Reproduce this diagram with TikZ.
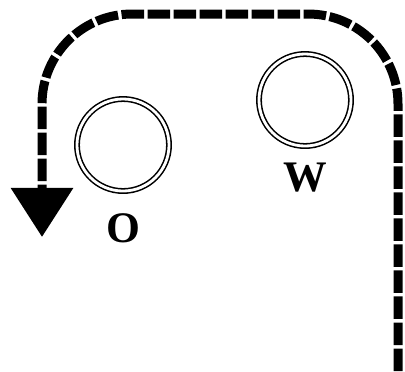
\documentclass[tikz,border=0pt]{standalone}
\usepackage{fontspec}
\setmainfont{Liberation Serif}
\usetikzlibrary{arrows.meta}

\begin{document}
\begin{tikzpicture}[x=0.025cm,y=-0.025cm]
\useasboundingbox (0,0) rectangle (405,371);
\begin{scope}[every node/.style={circle,draw,double,line width=1.1pt,double distance=2pt,minimum size=2.3cm,inner sep=0pt}]
    \node (o) at (123,145) {};
    \node (w) at (305,100) {};
\end{scope}
\begin{scope}[every node/.style={font=\bfseries\fontsize{31}{31}\selectfont}]
    \node (o_label) at (123,228) {O};
    \node (w_label) at (305,178) {W};
\end{scope}
\coordinate (start) at (398,371);
\coordinate (corner_ne) at (398,14);
\coordinate (corner_nw) at (42,14);
\coordinate (stop) at (42,237);
\begin{scope}[>={Triangle[width=43pt,length=35pt]},
              dashed_edge/.style={draw=black,line width=6.4pt,dash pattern=on 16pt off 2.5pt,rounded corners=2.25cm}]
    \draw [->,dashed_edge] (start) -- (corner_ne) -- (corner_nw) -- (stop);
\end{scope}
\end{tikzpicture}
\end{document}
